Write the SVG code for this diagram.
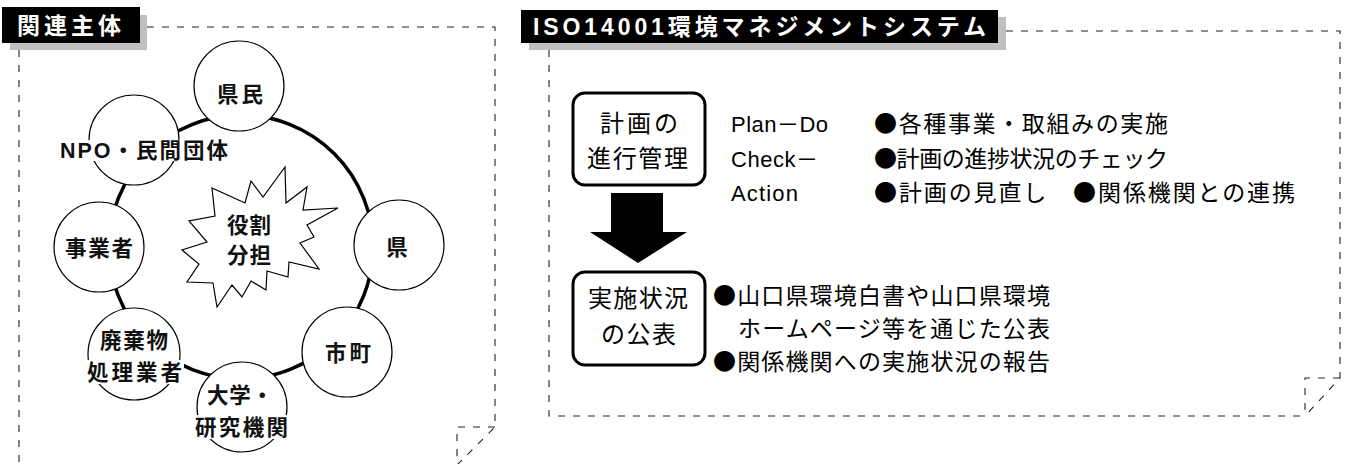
<svg xmlns="http://www.w3.org/2000/svg" width="1348" height="464" viewBox="0 0 1348 464">
<style>
.frame{fill:none;stroke:#222;stroke-width:1.1;stroke-dasharray:7 8}
.shadow{fill:#c0c0c0}
.hbar{fill:#000}
.htxt{font-family:"Liberation Sans","Noto Sans CJK JP",sans-serif;font-weight:700;font-size:23px;fill:#fff}
.node{fill:#fff;stroke:#000;stroke-width:1.2}
.lbl{font-family:"Liberation Sans","Noto Sans CJK JP",sans-serif;font-weight:700;font-size:21.5px;fill:#111}
.bg{fill:#fff}
.box{fill:#fff;stroke:#000;stroke-width:3}
.btxt{font-family:"Noto Sans CJK JP",sans-serif;font-size:24px;fill:#000}
.rtxt{font-family:"Liberation Sans","Noto Sans CJK JP",sans-serif;font-size:22px;fill:#000}
.jtxt{font-family:"Noto Sans CJK JP",sans-serif;font-size:23px;fill:#000}
</style>
<g id="left-panel">
  <rect class="shadow" x="10" y="15" width="137" height="35"/>
  <rect class="hbar" x="2" y="7" width="138" height="36"/>
  <text class="htxt" x="17" y="34" textLength="104" lengthAdjust="spacing">関連主体</text>
  <path class="frame" d="M147,27 H495 V427 L457,465 M19,50 V470 M495,427 H457 V470"/>
</g>
<g id="connectors">
  <circle cx="241" cy="247" r="132" fill="none" stroke="#000" stroke-width="3.5"/>
</g>
<g id="node-kenmin">
  <circle class="node" cx="239" cy="86" r="45"/>
  <text class="lbl" x="217" y="102" textLength="46" lengthAdjust="spacing">県民</text>
</g>
<g id="node-npo">
  <circle class="node" cx="134" cy="140" r="45"/>
  <rect class="bg" x="58" y="140" width="172" height="21"/>
  <text class="lbl" x="60" y="158" textLength="168" lengthAdjust="spacing">NPO・民間団体</text>
</g>
<g id="node-jigyosha">
  <circle class="node" cx="99" cy="247" r="45"/>
  <text class="lbl" x="65" y="256" textLength="68" lengthAdjust="spacing">事業者</text>
</g>
<g id="node-ken">
  <circle class="node" cx="399" cy="245" r="45"/>
  <text class="lbl" x="397" y="255" text-anchor="middle">県</text>
</g>
<g id="node-shicho">
  <circle class="node" cx="347" cy="352" r="45"/>
  <text class="lbl" x="325" y="361" textLength="46" lengthAdjust="spacing">市町</text>
</g>
<g id="node-daigaku">
  <circle class="node" cx="242" cy="407" r="45"/>
  <rect class="bg" x="193" y="415" width="97" height="24"/>
  <text class="lbl" x="207" y="403" textLength="66" lengthAdjust="spacing">大学・</text>
  <text class="lbl" x="195" y="435" textLength="93" lengthAdjust="spacing">研究機関</text>
</g>
<g id="node-haikibutsu">
  <circle class="node" cx="134" cy="354" r="46"/>
  <rect class="bg" x="85" y="360" width="99" height="24"/>
  <text class="lbl" x="100" y="348" textLength="68" lengthAdjust="spacing">廃棄物</text>
  <text class="lbl" x="87" y="380" textLength="95" lengthAdjust="spacing">処理業者</text>
</g>
<g id="node-yakuwari">
  <polygon class="node" points="285,167 286,203 307,187 303,210 338,208 307,225 314,237 300,243 319,269 289,262 288,277 267,271 266,290 251,281 242,297 232,285 217,307 213,283 187,282 199,264 182,250 207,242 189,221 215,216 212,188 245,203 251,181 263,197"/>
  <text class="lbl" x="227" y="233" textLength="44" lengthAdjust="spacing">役割</text>
  <text class="lbl" x="227" y="263" textLength="44" lengthAdjust="spacing">分担</text>
</g>
<g id="right-panel">
  <rect class="shadow" x="529" y="17" width="477" height="33"/>
  <rect class="hbar" x="521" y="10" width="477" height="33"/>
  <text class="htxt" x="533" y="35" textLength="453" lengthAdjust="spacing">ISO14001環境マネジメントシステム</text>
  <path class="frame" d="M1006,31 H1340 V378 L1305,416 M549,50 V416 H1305 M1340,378 H1305 V416"/>
</g>
<g id="node-keikaku">
  <rect class="box" x="573" y="93" width="132" height="92" rx="12"/>
  <text class="btxt" x="600" y="132" textLength="78" lengthAdjust="spacing">計画の</text>
  <text class="btxt" x="587" y="167" textLength="101" lengthAdjust="spacing">進行管理</text>
</g>
<g id="arrow">
  <polygon fill="#000" points="611,193 663,193 663,232 687,232 638,263 590,232 611,232"/>
</g>
<g id="node-kohyo">
  <rect class="box" x="573" y="272" width="132" height="93" rx="12"/>
  <text class="btxt" x="588" y="307" textLength="100" lengthAdjust="spacing">実施状況</text>
  <text class="btxt" x="601" y="343" textLength="75" lengthAdjust="spacing">の公表</text>
</g>
<g id="pdca-text">
  <text class="rtxt" x="731" y="132" textLength="97" lengthAdjust="spacing">Plan－Do</text>
  <text class="rtxt" x="731" y="167" textLength="87" lengthAdjust="spacing">Check－</text>
  <text class="rtxt" x="731" y="201" textLength="67" lengthAdjust="spacing">Action</text>
  <text class="jtxt" x="874" y="132" textLength="294" lengthAdjust="spacing">●各種事業・取組みの実施</text>
  <text class="jtxt" x="874" y="167" textLength="294" lengthAdjust="spacing">●計画の進捗状況のチェック</text>
  <text class="jtxt" x="874" y="201" textLength="421" lengthAdjust="spacing">●計画の見直し　●関係機関との連携</text>
</g>
<g id="kohyo-text">
  <text class="jtxt" x="713" y="304" textLength="337" lengthAdjust="spacing">●山口県環境白書や山口県環境</text>
  <text class="jtxt" x="738" y="337" textLength="312" lengthAdjust="spacing">ホームページ等を通じた公表</text>
  <text class="jtxt" x="713" y="370" textLength="337" lengthAdjust="spacing">●関係機関への実施状況の報告</text>
</g>
</svg>
